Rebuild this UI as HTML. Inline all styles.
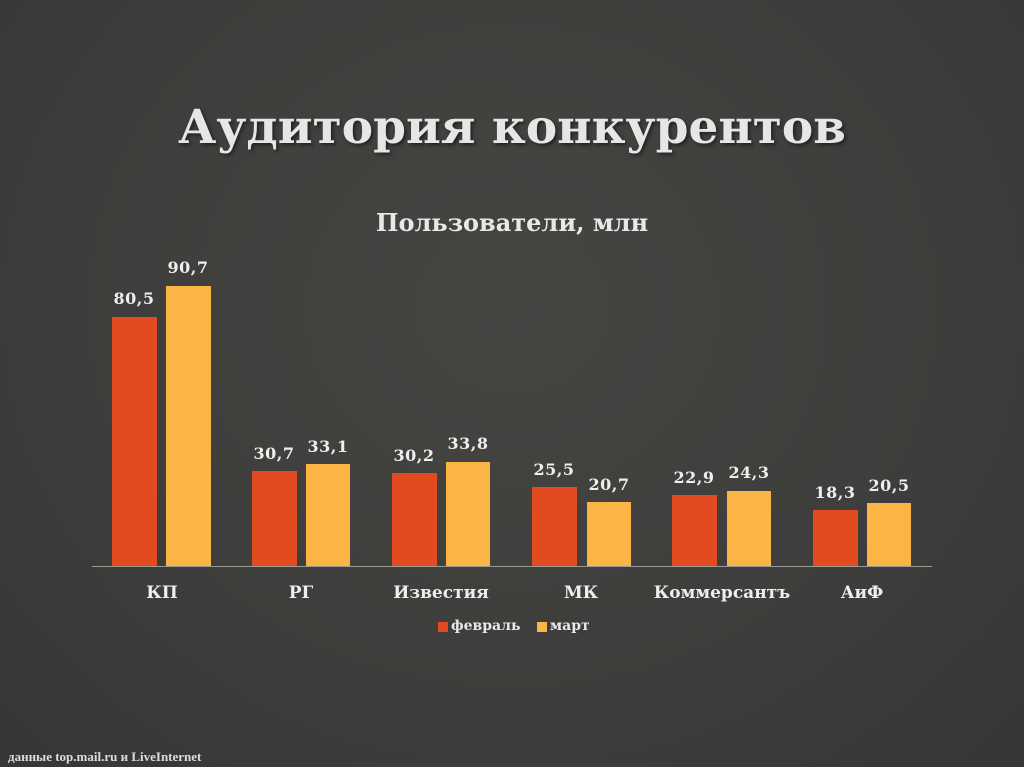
<!DOCTYPE html>
<html><head><meta charset="utf-8"><style>
body{margin:0;width:1024px;height:767px;overflow:hidden;background:radial-gradient(ellipse at 50% 40%,#454542 0%,#3d3d3b 60%,#363634 100%);font-family:"DejaVu Serif","Liberation Serif",serif;}
.t{position:absolute;color:#e8e8e8;white-space:nowrap;}
.b{position:absolute;}
.r{background:#e24a1f;}
.y{background:#fcb445;}
.v{position:absolute;color:#eee;font-size:16px;font-weight:bold;width:60px;text-align:center;letter-spacing:0.5px;}
.c{position:absolute;color:#eee;font-size:17px;font-weight:bold;width:160px;text-align:center;top:583px;}
</style></head><body>
<div class="t" style="left:0;width:1024px;text-align:center;top:100px;font-size:47px;font-weight:bold;color:#e6e6e6;text-shadow:2px 2px 3px #222;">Аудитория конкурентов</div>
<div class="t" style="left:0;width:1024px;text-align:center;top:208px;font-size:24px;font-weight:bold;">Пользователи, млн</div>
<div class="b" style="left:92px;width:840px;top:566px;height:1px;background:#9a9a96"></div>

<div class="b r" style="left:112px;width:45px;top:317px;height:249px"></div>
<div class="b y" style="left:166px;width:45px;top:286px;height:280px"></div>
<div class="v" style="left:104px;top:289px">80,5</div>
<div class="v" style="left:158px;top:258px">90,7</div>

<div class="b r" style="left:252px;width:45px;top:471px;height:95px"></div>
<div class="b y" style="left:306px;width:44px;top:464px;height:102px"></div>
<div class="v" style="left:244px;top:444px">30,7</div>
<div class="v" style="left:298px;top:437px">33,1</div>

<div class="b r" style="left:392px;width:45px;top:473px;height:93px"></div>
<div class="b y" style="left:446px;width:44px;top:462px;height:104px"></div>
<div class="v" style="left:384px;top:446px">30,2</div>
<div class="v" style="left:438px;top:434px">33,8</div>

<div class="b r" style="left:532px;width:45px;top:487px;height:79px"></div>
<div class="b y" style="left:587px;width:44px;top:502px;height:64px"></div>
<div class="v" style="left:524px;top:460px">25,5</div>
<div class="v" style="left:579px;top:475px">20,7</div>

<div class="b r" style="left:672px;width:45px;top:495px;height:71px"></div>
<div class="b y" style="left:727px;width:44px;top:491px;height:75px"></div>
<div class="v" style="left:664px;top:468px">22,9</div>
<div class="v" style="left:719px;top:463px">24,3</div>

<div class="b r" style="left:813px;width:45px;top:510px;height:56px"></div>
<div class="b y" style="left:867px;width:44px;top:503px;height:63px"></div>
<div class="v" style="left:805px;top:483px">18,3</div>
<div class="v" style="left:859px;top:476px">20,5</div>

<div class="c" style="left:82px">КП</div>
<div class="c" style="left:221px">РГ</div>
<div class="c" style="left:361px">Известия</div>
<div class="c" style="left:501px">МК</div>
<div class="c" style="left:642px">Коммерсантъ</div>
<div class="c" style="left:782px">АиФ</div>

<div class="b r" style="left:438px;top:622px;width:10px;height:10px"></div>
<div class="t" style="left:451px;top:618px;font-size:14px;font-weight:bold">февраль</div>
<div class="b y" style="left:537px;top:622px;width:10px;height:10px"></div>
<div class="t" style="left:550px;top:618px;font-size:14px;font-weight:bold">март</div>

<div class="t" style="left:8px;top:749px;font-size:13px;font-weight:bold;color:#ddd;font-family:'Liberation Serif',serif">данные top.mail.ru и LiveInternet</div>
</body></html>
